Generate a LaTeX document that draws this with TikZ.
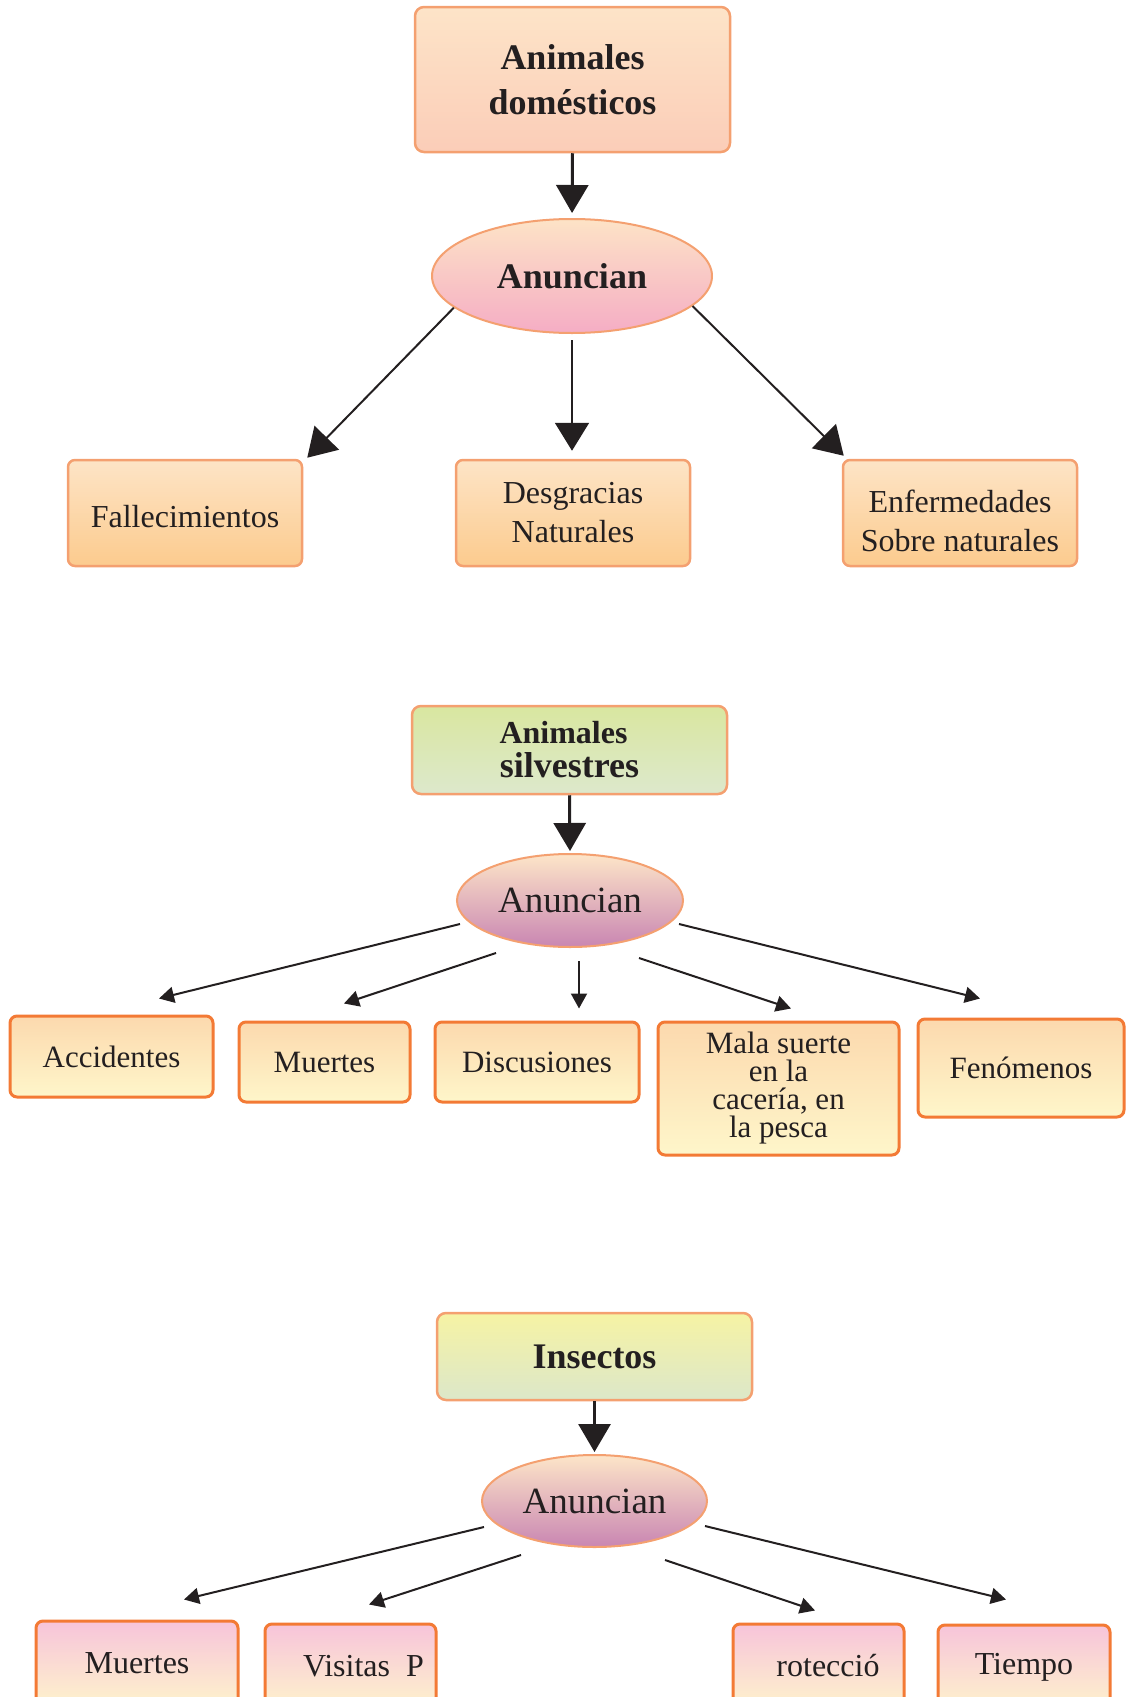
\documentclass[tikz,border=0pt]{standalone}
\usepackage{fontspec}
\setmainfont{Liberation Serif}
\usetikzlibrary{arrows.meta,shapes.geometric}
\definecolor{bordA}{HTML}{F4A070}
\definecolor{bordB}{HTML}{F37A35}
\definecolor{domtop}{HTML}{FDE4C8}
\definecolor{dombot}{HTML}{FBCDB8}
\definecolor{elltopA}{HTML}{FDE3C6}
\definecolor{ellbotA}{HTML}{F5ADC5}
\definecolor{rowAtop}{HTML}{FDE4C6}
\definecolor{rowAbot}{HTML}{FCCB8E}
\definecolor{greentop}{HTML}{D9E7A0}
\definecolor{greenbot}{HTML}{DDE8CC}
\definecolor{elltopB}{HTML}{FDE5C8}
\definecolor{ellbotB}{HTML}{C986B2}
\definecolor{rowBtop}{HTML}{FCD9AE}
\definecolor{rowBbot}{HTML}{FEF6CA}
\definecolor{instop}{HTML}{F6F3A4}
\definecolor{insbot}{HTML}{DCE7C9}
\definecolor{rowCtop}{HTML}{F7C4DA}
\definecolor{rowCbot}{HTML}{FEF2CC}
\definecolor{ink}{HTML}{231F20}
\tikzset{
  bigarr/.style={draw=ink, line width=3pt, -{Triangle[length=28pt,width=32pt]}},
  diagarr/.style={draw=ink, line width=2pt, -{Triangle[length=28pt,width=34pt]}},
  smallarr/.style={draw=ink, line width=2pt, -{Triangle[length=15pt,width=16pt]}},
  headbox/.style={rectangle, rounded corners=9pt, draw=bordA, line width=2.5pt, align=center, inner sep=0pt, text=ink},
  ellbox/.style={ellipse, draw=bordA, line width=2pt, inner sep=0pt, text=ink},
  rowAbox/.style={rectangle, rounded corners=7pt, draw=bordA, line width=2.5pt, align=center, inner sep=0pt, top color=rowAtop, bottom color=rowAbot, text=ink, font=\fontsize{32}{39}\selectfont},
  rowBbox/.style={rectangle, rounded corners=7pt, draw=bordB, line width=3pt, align=center, inner sep=0pt, top color=rowBtop, bottom color=rowBbot, text=ink, font=\fontsize{31}{28}\selectfont},
  rowCbox/.style={rectangle, rounded corners=7pt, draw=bordB, line width=3pt, align=center, inner sep=0pt, top color=rowCtop, bottom color=rowCbot, text=ink, minimum height=84pt, font=\fontsize{32}{38}\selectfont}
}
\begin{document}
\begin{tikzpicture}[x=1pt,y=-1pt]
\useasboundingbox (0,0) rectangle (1126,1697);
\clip (0,0) rectangle (1126,1697);

% ---------- Section 1 ----------
\node[headbox, top color=domtop, bottom color=dombot, minimum width=315pt, minimum height=145pt,
      font=\bfseries\fontsize{36}{45}\selectfont] (dom) at (572.5,79.5) {Animales\\domésticos};
\node[ellbox, top color=elltopA, bottom color=ellbotA, minimum width=280pt, minimum height=114pt,
      font=\bfseries\fontsize{36}{40}\selectfont] (an1) at (572,276) {Anuncian};

\node[rowAbox, minimum width=234pt, minimum height=106pt] (fal) at (185,513) {\rule{0pt}{30pt}Fallecimientos};
\node[rowAbox, minimum width=234pt, minimum height=106pt] (des) at (573,513) {Desgracias\\Naturales};
\node[rowAbox, minimum width=234pt, minimum height=106pt] (enf) at (960,513) {\rule{0pt}{38pt}Enfermedades\\Sobre naturales};

\draw[bigarr, shorten >=5pt] (dom.south) -- (an1.north);
\draw[diagarr] (an1.195) -- ([xshift=4pt,yshift=1pt]fal.north east);
\draw[diagarr, shorten <=6pt, shorten >=8pt] (an1.south) -- (an1.south |- des.north);
\draw[diagarr] (an1.346) -- ([xshift=2pt,yshift=3pt]enf.north west);

% ---------- Section 2 ----------
\node[headbox, top color=greentop, bottom color=greenbot, minimum width=315pt, minimum height=88pt,
      font=\bfseries\fontsize{36}{34}\selectfont] (sil) at (569.5,750) {{\fontsize{32}{34}\selectfont Animales\hspace*{12pt}}\\silvestres};
\node[ellbox, top color=elltopB, bottom color=ellbotB, minimum width=226pt, minimum height=93pt,
      font=\fontsize{37}{40}\selectfont] (an2) at (570,900.5) {Anuncian};

\node[rowBbox, minimum width=203pt, minimum height=81pt] (acc) at (111.5,1056.5) {Accidentes};
\node[rowBbox, minimum width=171pt, minimum height=80pt] (mue2) at (324.5,1062) {Muertes};
\node[rowBbox, minimum width=204pt, minimum height=80pt] (dis) at (537,1062) {Discusiones};
\node[rowBbox, minimum width=241pt, minimum height=133pt] (mal) at (778.5,1088.5) {Mala suerte\\en la\\cacería, en\\la pesca};
\node[rowBbox, minimum width=206pt, minimum height=98pt] (fen) at (1021,1068) {Fenómenos};

\draw[bigarr, shorten >=2pt] (sil.south) -- (an2.north);
\draw[smallarr] ([xshift=-110pt,yshift=-23.5pt]an2.center) -- ([xshift=47.5pt,yshift=16pt]acc.north);
\draw[smallarr] ([xshift=-74pt,yshift=-52.5pt]an2.center) -- ([xshift=19.5pt,yshift=17pt]mue2.north);
\draw[smallarr] ([xshift=9pt,yshift=-60.5pt]an2.center) -- ([xshift=42pt,yshift=12pt]dis.north);
\draw[smallarr] ([xshift=69pt,yshift=-57.5pt]an2.center) -- ([xshift=12.5pt,yshift=12pt]mal.north);
\draw[smallarr] ([xshift=109pt,yshift=-23.5pt]an2.center) -- ([xshift=-41pt,yshift=19pt]fen.north);

% ---------- Section 3 ----------
\node[headbox, top color=instop, bottom color=insbot, minimum width=315pt, minimum height=87pt,
      font=\bfseries\fontsize{36}{40}\selectfont] (ins) at (594.5,1356.5) {Insectos};
\node[ellbox, top color=elltopB, bottom color=ellbotB, minimum width=225pt, minimum height=92pt,
      font=\fontsize{37}{40}\selectfont] (an3) at (594.5,1501) {Anuncian};

\node[rowCbox, minimum width=202pt] (mue3) at (137,1663) {Muertes};
\node[rowCbox, minimum width=171pt] (vis) at (350.5,1666) {\hspace*{26pt}Visitas\ \ P};
\node[rowCbox, minimum width=171pt] (rot) at (818.5,1666) {\hspace*{19pt}rotecció};
\node[rowCbox, minimum width=172pt] (tie) at (1024,1667) {Tiempo};

\draw[bigarr, shorten >=2pt] (ins.south) -- (an3.north);
\draw[smallarr] ([xshift=-110.5pt,yshift=-26pt]an3.center) -- ([xshift=47pt,yshift=20pt]mue3.north);
\draw[smallarr] ([xshift=-73.5pt,yshift=-54pt]an3.center) -- ([xshift=18.5pt,yshift=18pt]vis.north);
\draw[smallarr] ([xshift=70.5pt,yshift=-59pt]an3.center) -- ([xshift=-3.5pt,yshift=12pt]rot.north);
\draw[smallarr] ([xshift=110.5pt,yshift=-25pt]an3.center) -- ([xshift=-18pt,yshift=24pt]tie.north);
\end{tikzpicture}
\end{document}
